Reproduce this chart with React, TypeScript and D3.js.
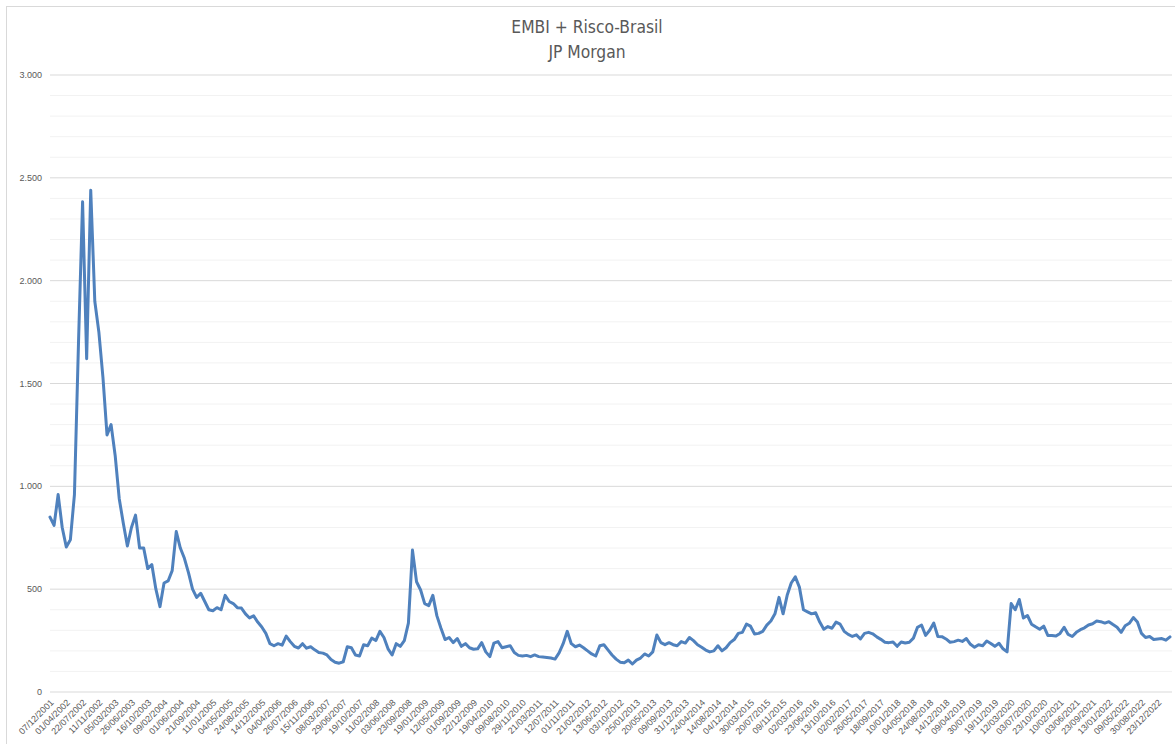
import * as d3 from "d3";

// rótulos do eixo x (um a cada 4 pontos da série)
const tickDates = [
  "07/12/2001", "01/04/2002", "22/07/2002", "11/11/2002", "05/03/2003", "26/06/2003",
  "16/10/2003", "09/02/2004", "01/06/2004", "21/09/2004", "11/01/2005", "04/05/2005",
  "24/08/2005", "14/12/2005", "04/04/2006", "26/07/2006", "15/11/2006", "08/03/2007",
  "29/06/2007", "19/10/2007", "11/02/2008", "03/06/2008", "23/09/2008", "19/01/2009",
  "12/05/2009", "01/09/2009", "22/12/2009", "19/04/2010", "09/08/2010", "29/11/2010",
  "21/03/2011", "12/07/2011", "01/11/2011", "21/02/2012", "13/06/2012", "03/10/2012",
  "25/01/2013", "20/05/2013", "09/09/2013", "31/12/2013", "24/04/2014", "14/08/2014",
  "04/12/2014", "30/03/2015", "20/07/2015", "09/11/2015", "02/03/2016", "23/06/2016",
  "13/10/2016", "02/02/2017", "26/05/2017", "18/09/2017", "10/01/2018", "04/05/2018",
  "24/08/2018", "14/12/2018", "09/04/2019", "30/07/2019", "19/11/2019", "12/03/2020",
  "03/07/2020", "23/10/2020", "10/02/2021", "03/06/2021", "23/09/2021", "13/01/2022",
  "09/05/2022", "30/08/2022", "23/12/2022",
];

// EMBI+ Risco-Brasil, pontos-base
const riskValues = [
  850, 810, 960, 800, 705, 740, 960, 1700, 2384, 1620,
  2440, 1900, 1750, 1530, 1250, 1300, 1150, 940, 820, 710,
  800, 860, 700, 700, 600, 620, 500, 415, 530, 540,
  590, 780, 700, 650, 580, 500, 460, 480, 440, 400,
  395, 410, 400, 470, 440, 430, 410, 408, 380, 360,
  370, 340, 316, 285, 235, 225, 235, 228, 272, 245,
  222, 214, 235, 213, 220, 205, 192, 189, 180, 158,
  145, 140, 147, 220, 215, 180, 175, 230, 225, 262,
  250, 295, 265, 210, 180, 235, 222, 250, 335, 690,
  536, 496, 430, 420, 470, 370, 310, 255, 265, 240,
  260, 222, 235, 215, 208, 210, 240, 195, 172, 238,
  245, 215, 220, 225, 192, 178, 175, 178, 172, 180,
  172, 170, 168, 165, 160, 190, 235, 295, 235, 220,
  228, 215, 200, 185, 175, 225, 230, 205, 180, 160,
  145, 142, 155, 136, 155, 165, 185, 175, 195, 277,
  240, 230, 240, 230, 225, 245, 238, 265, 250, 230,
  218, 204, 195, 200, 225, 200, 215, 240, 255, 285,
  290, 330, 320, 282, 285, 295, 325, 345, 380, 460,
  380, 470, 530, 560, 510, 400, 390, 380, 385, 340,
  305, 318, 310, 340, 330, 295, 280, 270, 278, 258,
  285, 290, 283, 268, 256, 242, 240, 243, 222, 243,
  238, 242, 262, 315, 325, 275, 300, 335, 270, 269,
  258, 242, 245, 252, 246, 260, 232, 218, 230, 225,
  248, 236, 222, 237, 210, 195, 430, 400, 450, 360,
  372, 330, 317, 305, 320, 275, 275, 272, 285, 315,
  280, 270, 290, 303, 312, 326, 332, 345, 342, 335,
  342, 328, 315, 290, 322, 334, 362, 340, 285, 265,
  270, 255, 258, 260, 252, 268,
];

const yTicks = [0, 500, 1000, 1500, 2000, 2500, 3000];
const pointsPerLabel = 4;

const W = 1175;
const H = 744;

export default function App() {
  const x = d3.scaleLinear().domain([0, riskValues.length - 1]).range([50, 1170]);
  const y = d3.scaleLinear().domain([0, 3000]).range([692, 75]);

  const line = d3.line<number>()
    .x((d, i) => x(i))
    .y((d) => y(d));

  // formato brasileiro: 3.000
  const fmt = d3.formatLocale({ decimal: ",", thousands: ".", grouping: [3], currency: ["R$", ""] }).format(",d");
  const minorTicks = d3.range(100, 3000, 100).filter((v) => v % 500 !== 0);

  const tickFont = "'Liberation Sans', Arial, sans-serif";
  const titleFont = "'DejaVu Sans Condensed', 'Liberation Sans Narrow', sans-serif";

  return (
    <svg width={W} height={H} style={{ position: "absolute", left: 0, top: 0, background: "#fff" }}>
      <rect x={6.5} y={6.5} width={W} height={H} fill="#fff" stroke="#d9d9d9" />

      <text x={587} y={33} textAnchor="middle" fontSize={17.3} fill="#595959" fontFamily={titleFont}>
        EMBI + Risco-Brasil
      </text>
      <text x={587} y={58} textAnchor="middle" fontSize={17.3} fill="#595959" fontFamily={titleFont}>
        JP Morgan
      </text>

      {/* grade secundária */}
      {minorTicks.map((v) => (
        <line key={"m" + v} x1={50} x2={1172} y1={y(v)} y2={y(v)} stroke="#f2f2f2" strokeWidth={1} />
      ))}
      {/* grade principal */}
      {yTicks.map((v) => (
        <g key={"t" + v}>
          <line x1={50} x2={1172} y1={y(v)} y2={y(v)} stroke="#d9d9d9" strokeWidth={1} />
          <text x={42} y={y(v)} dy="0.35em" textAnchor="end" fontSize={9} fill="#595959" fontFamily={tickFont}>
            {fmt(v)}
          </text>
        </g>
      ))}

      {tickDates.map((d, k) => (
        <text key={d} transform={`translate(${x(k * pointsPerLabel) + 2},${701}) rotate(-45)`}
          textAnchor="end" dy="0.35em" fontSize={9} fill="#595959" fontFamily={tickFont}>
          {d}
        </text>
      ))}

      <path d={line(riskValues) ?? ""} fill="none" stroke="#4f81bd" strokeWidth={3}
        strokeLinejoin="round" strokeLinecap="round" />
    </svg>
  );
}
